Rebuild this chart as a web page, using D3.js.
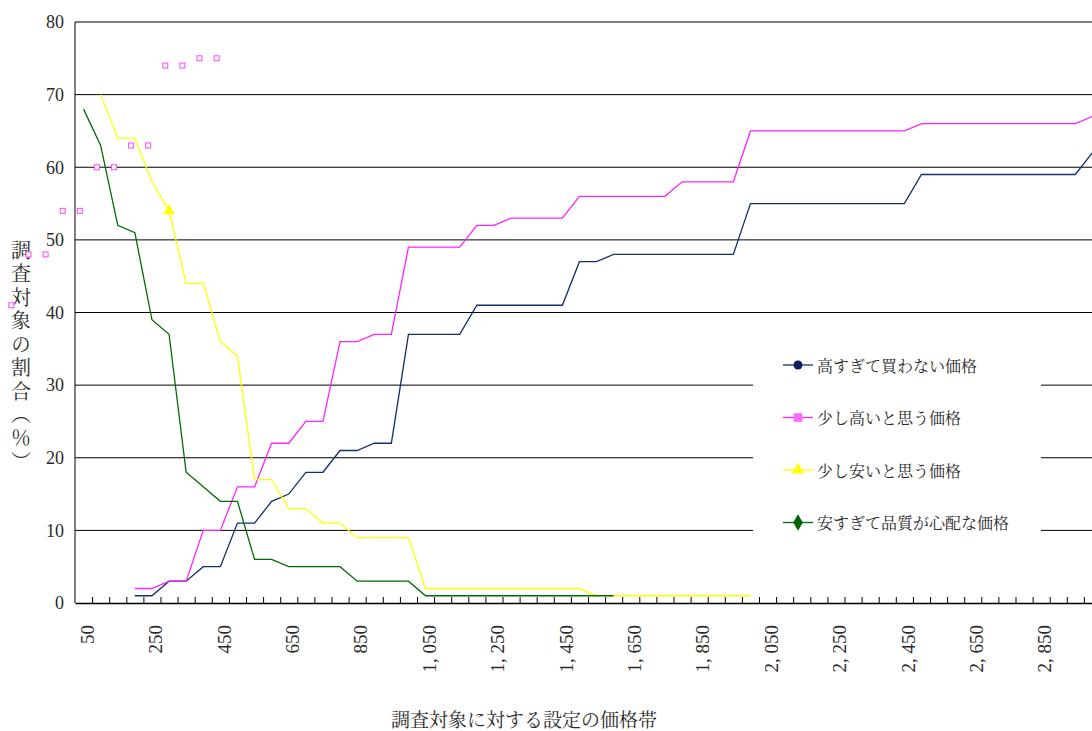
<!DOCTYPE html>
<html>
<head>
<meta charset="utf-8">
<script src="https://cdn.jsdelivr.net/npm/d3@7/dist/d3.min.js"></script>
<style>
  html, body { margin: 0; padding: 0; background: #fff; overflow: hidden; }
  svg { display: block; }
</style>
</head>
<body>
<svg id="chart" width="1092" height="731"></svg>
<script>
// Price bands (yen) along the horizontal axis
const prices = [50, 100, 150, 200, 250, 300, 350, 400, 450, 500,
  550, 600, 650, 700, 750, 800, 850, 900, 950, 1000,
  1050, 1100, 1150, 1200, 1250, 1300, 1350, 1400, 1450, 1500,
  1550, 1600, 1650, 1700, 1750, 1800, 1850, 1900, 1950, 2000,
  2050, 2100, 2150, 2200, 2250, 2300, 2350, 2400, 2450, 2500,
  2550, 2600, 2650, 2700, 2750, 2800, 2850, 2900, 2950, 3000];

// Labelled price bands
const priceLabels = [50, 250, 450, 650, 850, 1050, 1250, 1450, 1650, 1850, 2050, 2250, 2450, 2650, 2850];
const yTicks = [0, 10, 20, 30, 40, 50, 60, 70, 80];

// Share of respondents (%) per price band
const tooHigh = [null, null, null, 1, 1, 3, 3, 5, 5, 11,
  11, 14, 15, 18, 18, 21, 21, 22, 22, 37,
  37, 37, 37, 41, 41, 41, 41, 41, 41, 47,
  47, 48, 48, 48, 48, 48, 48, 48, 48, 55,
  55, 55, 55, 55, 55, 55, 55, 55, 55, 59,
  59, 59, 59, 59, 59, 59, 59, 59, 59, 62];

const slightlyHigh = [null, null, null, 2, 2, 3, 3, 10, 10, 16,
  16, 22, 22, 25, 25, 36, 36, 37, 37, 49,
  49, 49, 49, 52, 52, 53, 53, 53, 53, 56,
  56, 56, 56, 56, 56, 58, 58, 58, 58, 65,
  65, 65, 65, 65, 65, 65, 65, 65, 65, 66,
  66, 66, 66, 66, 66, 66, 66, 66, 66, 67];

const slightlyLow = [null, 70, 64, 64, 58, 54, 44, 44, 36, 34,
  17, 17, 13, 13, 11, 11, 9, 9, 9, 9,
  2, 2, 2, 2, 2, 2, 2, 2, 2, 2,
  1, 1, 1, 1, 1, 1, 1, 1, 1, 1,
  null, null, null, null, null, null, null, null, null, null,
  null, null, null, null, null, null, null, null, null, null];

const tooCheap = [68, 63, 52, 51, 39, 37, 18, 16, 14, 14,
  6, 6, 5, 5, 5, 5, 3, 3, 3, 3,
  1, 1, 1, 1, 1, 1, 1, 1, 1, 1,
  1, 1, null, null, null, null, null, null, null, null,
  null, null, null, null, null, null, null, null, null, null,
  null, null, null, null, null, null, null, null, null, null];

// Stray marker-only points of the 少し高い series
const strayPrices = [-150, -100, -50, 0, 50, 100, 150, 200, 250, 300, 350, 400, 450];
const strayValues = [41, 48, 48, 54, 54, 60, 60, 63, 63, 74, 74, 75, 75];
const strayShift = -11;   // price units

// Single highlighted marker on the 少し安い series
const lowMarkerPrice = 300;

const seriesNames = ["高すぎて買わない価格", "少し高いと思う価格", "少し安いと思う価格", "安すぎて品質が心配な価格"];
const seriesColors = ["#12306e", "#ff22ff", "#ffff00", "#006a00"];
const markerFills = ["#0a1f5c", "#ff66ff", "#ffff00", "#006400"];
const seriesValues = [tooHigh, slightlyHigh, slightlyLow, tooCheap];

const numFont = "'Liberation Serif', 'DejaVu Serif', serif";
const jpFont = "'Noto Serif CJK JP', 'Noto Sans CJK JP', sans-serif";
const textColor = "#2a2a2a";

const svg = d3.select("#chart");
const plotLeft = 75, plotTop = 22, plotBottom = 603;
const band = 17.1;
const plotRight = plotLeft + band * prices.length;

const x = d3.scaleLinear()
  .domain([prices[0] - 25, prices[prices.length - 1] + 25])
  .range([plotLeft, plotRight]);
const y = d3.scaleLinear().domain([0, 80]).range([plotBottom, plotTop]);

// Horizontal gridlines
svg.append("g")
  .selectAll("line")
  .data(yTicks.filter(v => v > 0))
  .join("line")
  .attr("x1", plotLeft).attr("x2", plotRight)
  .attr("y1", d => y(d)).attr("y2", d => y(d))
  .attr("stroke", "#000").attr("stroke-width", 1);

// Value labels on the left
const yAxis = svg.append("g")
  .attr("transform", `translate(${plotLeft},0)`)
  .call(d3.axisLeft(y).tickValues(yTicks).tickSize(0).tickPadding(11));
yAxis.select(".domain").remove();
yAxis.selectAll("text")
  .attr("font-family", numFont).attr("font-size", 18).attr("fill", textColor);

// Left axis line
svg.append("line")
  .attr("x1", plotLeft).attr("x2", plotLeft).attr("y1", plotTop).attr("y2", plotBottom)
  .attr("stroke", "#000").attr("stroke-width", 1);

// Category boundary ticks along the bottom axis
const boundaries = prices.slice(1).map(p => p - 25);
const xTickAxis = svg.append("g")
  .attr("transform", `translate(0,${plotBottom})`)
  .call(d3.axisBottom(x).tickValues(boundaries).tickSizeInner(-6).tickSizeOuter(0).tickFormat(""));
xTickAxis.select(".domain").attr("stroke", "#000").attr("stroke-width", 1.6);
xTickAxis.selectAll(".tick line").attr("stroke", "#000");

// Rotated price labels
const fmt = d => d3.format(",")(d).replace(",", ", ");
const xLabelAxis = svg.append("g")
  .attr("transform", `translate(0,${plotBottom})`)
  .call(d3.axisBottom(x).tickValues(priceLabels).tickSize(0).tickFormat(fmt));
xLabelAxis.select(".domain").remove();
xLabelAxis.selectAll("text")
  .attr("transform", "rotate(-90)")
  .attr("text-anchor", "end")
  .attr("x", -22).attr("y", 3).attr("dy", "0.35em")
  .attr("font-family", numFont).attr("font-size", 19).attr("fill", textColor);

// Axis titles
svg.append("text")
  .attr("x", 524).attr("y", 718)
  .attr("text-anchor", "middle").attr("dominant-baseline", "central")
  .attr("font-family", jpFont).attr("font-size", 19).attr("fill", textColor)
  .text("調査対象に対する設定の価格帯");

svg.append("text")
  .attr("x", 21).attr("y", 240)
  .attr("writing-mode", "vertical-rl")
  .attr("letter-spacing", 3.5)
  .attr("font-family", jpFont).attr("font-size", 20).attr("fill", textColor)
  .text("調査対象の割合（％）");

// Series lines
const line = d3.line()
  .defined(d => d.v != null)
  .x(d => x(d.p)).y(d => y(d.v));

seriesValues.forEach((vals, i) => {
  svg.append("path")
    .datum(prices.map((p, j) => ({ p, v: vals[j] })))
    .attr("d", line)
    .attr("fill", "none")
    .attr("stroke", seriesColors[i])
    .attr("stroke-width", 1.3)
    .attr("stroke-linejoin", "miter");
});

// Triangle marker on 少し安い series
const lowIdx = prices.indexOf(lowMarkerPrice);
svg.append("path")
  .attr("d", d3.symbol(d3.symbolTriangle, 60)())
  .attr("transform", `translate(${x(lowMarkerPrice)},${y(slightlyLow[lowIdx])})`)
  .attr("fill", markerFills[2]);

// Stray hollow square markers
svg.append("g")
  .selectAll("rect")
  .data(strayPrices.map((p, i) => ({ p: p + strayShift, v: strayValues[i] })))
  .join("rect")
  .attr("x", d => x(d.p) - 2.5).attr("y", d => y(d.v) - 2.5)
  .attr("width", 5).attr("height", 5)
  .attr("fill", "#fff").attr("stroke", "#ff44ff").attr("stroke-width", 1);

// Legend
const legend = svg.append("g");
legend.append("rect")
  .attr("x", 753).attr("y", 332).attr("width", 288).attr("height", 215)
  .attr("fill", "#fff");

const legendY = d3.scaleLinear().domain([0, 3]).range([365, 522.5]);
const symbols = [d3.symbolCircle, d3.symbolSquare, d3.symbolTriangle, d3.symbolDiamond];
const symbolSizes = [64, 72, 66, 80];

seriesNames.forEach((name, i) => {
  const g = legend.append("g").attr("transform", `translate(0,${legendY(i)})`);
  g.append("line")
    .attr("x1", 783).attr("x2", 813).attr("y1", 0).attr("y2", 0)
    .attr("stroke", seriesColors[i]).attr("stroke-width", 1.3);
  g.append("path")
    .attr("d", d3.symbol(symbols[i], symbolSizes[i])())
    .attr("transform", "translate(798,0)")
    .attr("fill", markerFills[i]);
  g.append("text")
    .attr("x", 817).attr("y", 0)
    .attr("dominant-baseline", "central")
    .attr("font-family", jpFont).attr("font-size", 16).attr("fill", textColor)
    .text(name);
});
</script>
</body>
</html>
